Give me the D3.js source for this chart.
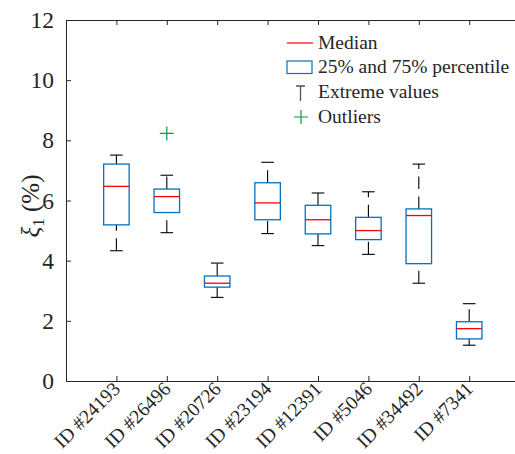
<!DOCTYPE html>
<html lang="en">
<head>
    <meta charset="UTF-8">
    <title>Boxplot xi1</title>
    <script src="https://d3js.org/d3.v7.min.js"></script>
    <style>
        body { margin: 0; background: #fff; }
        svg { display: block; font-family: "Liberation Serif", "Times New Roman", serif; }
    </style>
</head>
<body>
<svg id="chart" width="515" height="454"></svg>
<script>
    // data
    const ids = ["ID #24193", "ID #26496", "ID #20726", "ID #23194", "ID #12391", "ID #5046", "ID #34492", "ID #7341"];
    const lowerAdj = [4.33, 4.93, 2.78, 4.90, 4.50, 4.21, 3.25, 1.19];
    const q1 = [5.19, 5.60, 3.12, 5.36, 4.89, 4.70, 3.90, 1.40];
    const medians = [6.47, 6.13, 3.25, 5.92, 5.36, 5.00, 5.50, 1.74];
    const q3 = [7.21, 6.38, 3.49, 6.59, 5.84, 5.44, 5.72, 1.97];
    const upperAdj = [7.51, 6.84, 3.92, 7.27, 6.25, 6.29, 7.21, 2.57];
    const outliers = [[], [8.23], [], [], [], [], [], []];
    const yTicks = [0, 2, 4, 6, 8, 10, 12];

    const svg = d3.select("#chart");
    const plotLeft = 66, plotTop = 20, plotBottom = 381, plotRight = 519.6;
    const axisColor = "#262626";

    const x = d3.scalePoint().domain(ids).range([plotLeft, plotRight]).padding(1);
    const y = d3.scaleLinear().domain([0, 12]).range([plotBottom, plotTop]);
    const boxW = 25.5, capW = 12.6;

    // axes (MATLAB style, ticks inside)
    svg.append("g")
        .attr("transform", `translate(${plotLeft},0)`)
        .call(d3.axisLeft(y).tickValues(yTicks).tickSizeInner(-5).tickSizeOuter(0).tickPadding(12))
        .call(g => g.selectAll("text").attr("font-size", 23.5).attr("fill", axisColor).attr("font-family", "Liberation Serif"))
        .call(g => g.selectAll("line, path").attr("stroke", axisColor));

    svg.append("g")
        .attr("transform", `translate(0,${plotBottom})`)
        .call(d3.axisBottom(x).tickSizeInner(-5).tickSizeOuter(0).tickFormat(""))
        .call(g => g.selectAll("line, path").attr("stroke", axisColor));

    svg.append("g")
        .attr("transform", `translate(0,${plotTop})`)
        .call(d3.axisTop(x).tickSizeInner(-5).tickSizeOuter(0).tickFormat(""))
        .call(g => g.selectAll("line, path").attr("stroke", axisColor));

    // rotated category labels
    svg.append("g").selectAll("text")
        .data(ids)
        .join("text")
        .attr("transform", d => `translate(${x(d) + 5},${plotBottom + 9}) rotate(-45)`)
        .attr("text-anchor", "end")
        .attr("font-size", 19.5)
        .attr("fill", axisColor)
        .text(d => d);

    // y label
    const yl = svg.append("text")
        .attr("transform", `translate(39,206) rotate(-90)`)
        .attr("text-anchor", "middle")
        .attr("font-size", 25)
        .attr("fill", axisColor);
    yl.append("tspan").attr("font-style", "italic").text("ξ");
    yl.append("tspan").attr("font-size", 17).attr("dy", 5).text("1");
    yl.append("tspan").attr("dy", -5).text(" (%)");

    // boxes
    const g = svg.append("g");
    ids.forEach((id, i) => {
        const cx = x(id);
        // whiskers drawn from the lower value up
        g.append("line")
            .attr("x1", cx).attr("x2", cx)
            .attr("y1", y(q3[i])).attr("y2", y(upperAdj[i]))
            .attr("stroke", "#000").attr("stroke-width", 1.1)
            .attr("stroke-dasharray", "12.5,7.5");
        g.append("line")
            .attr("x1", cx).attr("x2", cx)
            .attr("y1", y(lowerAdj[i])).attr("y2", y(q1[i]))
            .attr("stroke", "#000").attr("stroke-width", 1.1)
            .attr("stroke-dasharray", "12.5,7.5");
        [lowerAdj[i], upperAdj[i]].forEach(v => {
            g.append("line")
                .attr("x1", cx - capW / 2).attr("x2", cx + capW / 2)
                .attr("y1", y(v)).attr("y2", y(v))
                .attr("stroke", "#000").attr("stroke-width", 1.1);
        });
        g.append("rect")
            .attr("x", cx - boxW / 2).attr("width", boxW)
            .attr("y", y(q3[i])).attr("height", y(q1[i]) - y(q3[i]))
            .attr("fill", "none").attr("stroke", "#0072BD").attr("stroke-width", 1.3);
        g.append("line")
            .attr("x1", cx - boxW / 2).attr("x2", cx + boxW / 2)
            .attr("y1", y(medians[i])).attr("y2", y(medians[i]))
            .attr("stroke", "#FF0000").attr("stroke-width", 1.3);
        outliers[i].forEach(v => {
            g.append("path")
                .attr("d", `M${cx - 7},${y(v)}H${cx + 7}M${cx},${y(v) - 7}V${y(v) + 7}`)
                .attr("stroke", "#0a9a3c").attr("stroke-width", 1.2);
        });
    });

    // legend
    const lg = svg.append("g");
    const lx = 287, tx = 318;
    lg.append("line").attr("x1", lx).attr("x2", lx + 26).attr("y1", 43).attr("y2", 43)
        .attr("stroke", "#FF0000").attr("stroke-width", 1.2);
    lg.append("rect").attr("x", lx).attr("y", 61).attr("width", 25).attr("height", 12.5)
        .attr("fill", "none").attr("stroke", "#0072BD").attr("stroke-width", 1.2);
    lg.append("path").attr("d", `M${lx + 9},86H${lx + 18}M${lx + 13.5},86V101`)
        .attr("stroke", "#555").attr("stroke-width", 1.3);
    lg.append("path").attr("d", `M${lx + 7},117H${lx + 21}M${lx + 14},110V124`)
        .attr("stroke", "#0a9a3c").attr("stroke-width", 1.2);
    const legendLabels = ["Median", "25% and 75% percentile", "Extreme values", "Outliers"];
    lg.selectAll("text").data(legendLabels).join("text")
        .attr("x", tx).attr("y", (d, i) => 48.5 + i * 24.8)
        .attr("font-size", 19.5).attr("fill", axisColor)
        .text(d => d);
</script>
</body>
</html>
